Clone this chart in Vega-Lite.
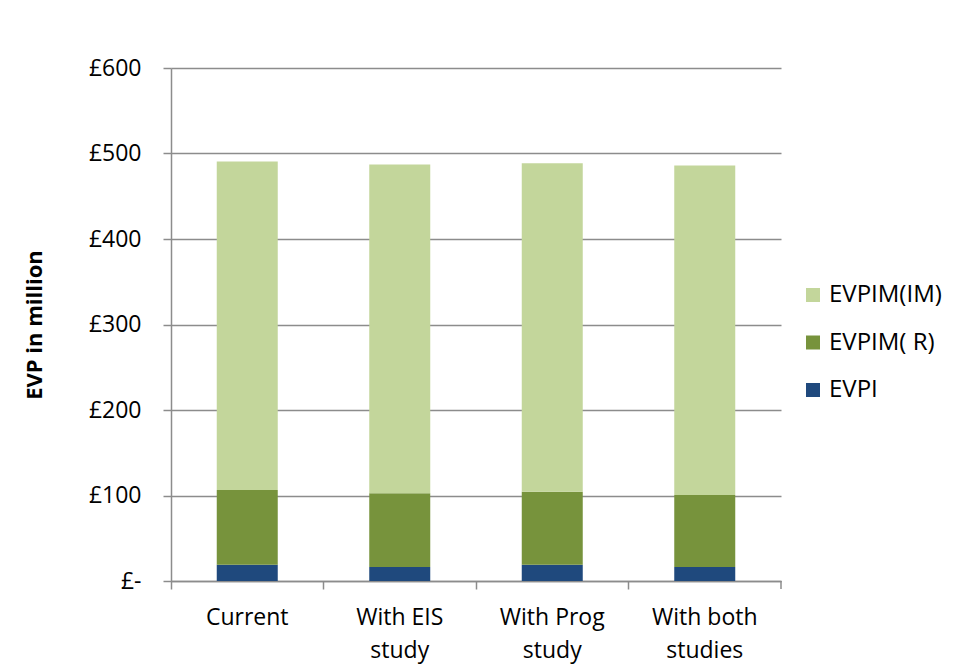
{
  "$schema": "https://vega.github.io/schema/vega-lite/v6.json",
  "width": 610,
  "height": 513,
  "autosize": {"type": "none"},
  "padding": {"left": 171, "top": 68, "right": 178, "bottom": 85},
  "background": "white",
  "config": {"view": {"stroke": null}, "font": "Open Sans"},
  "data": {
    "values": [
      {"scenario": "Current", "component": "EVPI", "ord": 1, "value": 19},
      {"scenario": "Current", "component": "EVPIM( R)", "ord": 2, "value": 87.5},
      {"scenario": "Current", "component": "EVPIM(IM)", "ord": 3, "value": 384},
      {"scenario": "With EIS study", "component": "EVPI", "ord": 1, "value": 16.5},
      {"scenario": "With EIS study", "component": "EVPIM( R)", "ord": 2, "value": 86},
      {"scenario": "With EIS study", "component": "EVPIM(IM)", "ord": 3, "value": 384.5},
      {"scenario": "With Prog study", "component": "EVPI", "ord": 1, "value": 19},
      {"scenario": "With Prog study", "component": "EVPIM( R)", "ord": 2, "value": 85.5},
      {"scenario": "With Prog study", "component": "EVPIM(IM)", "ord": 3, "value": 384},
      {"scenario": "With both studies", "component": "EVPI", "ord": 1, "value": 16.5},
      {"scenario": "With both studies", "component": "EVPIM( R)", "ord": 2, "value": 84},
      {"scenario": "With both studies", "component": "EVPIM(IM)", "ord": 3, "value": 385.5}
    ]
  },
  "resolve": {"axis": {"x": "independent"}},
  "layer": [
    {
      "mark": {"type": "bar"},
      "encoding": {
        "x": {
          "field": "scenario",
          "type": "nominal",
          "sort": ["Current", "With EIS study", "With Prog study", "With both studies"],
          "scale": {"paddingInner": 0.6, "paddingOuter": 0.3},
          "axis": {
            "orient": "bottom",
            "title": null,
            "labelAngle": 0,
            "labelFontSize": 23,
            "labelColor": "#000000",
            "labelPadding": 25,
            "labelBaseline": "top",
            "labelLineHeight": 33,
            "labelExpr": "datum.value == 'Current' ? 'Current' : [slice(datum.value, 0, lastindexof(datum.value, ' ')), slice(datum.value, lastindexof(datum.value, ' ') + 1)]",
            "ticks": false,
            "domainColor": "#8c8c8c",
            "domainWidth": 1.5
          }
        },
        "y": {
          "field": "value",
          "type": "quantitative",
          "stack": "zero",
          "scale": {"domain": [0, 600], "nice": false},
          "axis": {
            "title": "EVP in million",
            "titleFontSize": 22,
            "titleFontWeight": "bold",
            "titleColor": "#000000",
            "titlePadding": 42,
            "values": [0, 100, 200, 300, 400, 500, 600],
            "labelExpr": "datum.value == 0 ? '£-' : '£' + datum.value",
            "labelFontSize": 23,
            "labelColor": "#000000",
            "labelPadding": 22,
            "grid": true,
            "gridColor": "#8c8c8c",
            "gridWidth": 1.5,
            "tickSize": 8,
            "tickColor": "#8c8c8c",
            "tickWidth": 1.5,
            "domainColor": "#8c8c8c",
            "domainWidth": 1.5
          }
        },
        "color": {
          "field": "component",
          "type": "nominal",
          "scale": {
            "domain": ["EVPIM(IM)", "EVPIM( R)", "EVPI"],
            "range": ["#C3D69B", "#77933C", "#1F497D"]
          },
          "legend": {
            "title": null,
            "orient": "none",
            "legendX": 630,
            "legendY": 215,
            "symbolType": "square",
            "symbolSize": 196,
            "symbolStrokeWidth": 0,
            "labelFontSize": 24,
            "labelColor": "#000000",
            "labelOffset": 4,
            "rowPadding": 23.5
          }
        },
        "order": {"field": "ord", "type": "quantitative"}
      }
    },
    {
      "mark": {"type": "bar", "opacity": 0},
      "encoding": {
        "x": {
          "field": "scenario",
          "type": "nominal",
          "sort": ["Current", "With EIS study", "With Prog study", "With both studies"],
          "axis": {
            "orient": "bottom",
            "title": null,
            "labels": false,
            "domain": false,
            "grid": false,
            "bandPosition": -0.75,
            "ticks": true,
            "tickSize": 8,
            "tickColor": "#8c8c8c",
            "tickWidth": 1.5
          }
        },
        "y": {"datum": 0, "type": "quantitative"}
      }
    },
    {
      "transform": [{"filter": "datum.scenario == 'With both studies' && datum.ord == 1"}],
      "mark": {"type": "rule", "color": "#8c8c8c", "strokeWidth": 1.5},
      "encoding": {
        "x": {"field": "scenario", "type": "nominal", "bandPosition": 1.75, "sort": ["Current", "With EIS study", "With Prog study", "With both studies"], "axis": null},
        "y": {"datum": 0, "type": "quantitative"},
        "y2": {"datum": -9.4}
      }
    }
  ]
}
